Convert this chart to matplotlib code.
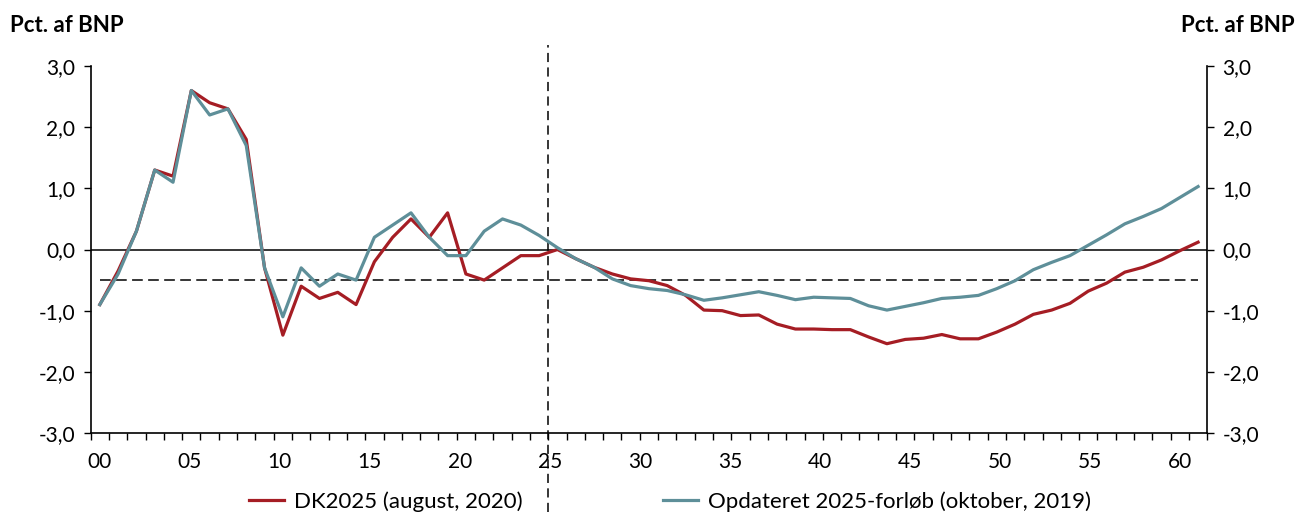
import matplotlib.pyplot as plt
import numpy as np
from matplotlib.ticker import FixedLocator, FixedFormatter

plt.rcParams['font.family'] = ['Lato', 'DejaVu Sans']

# data (pct. af BNP)
years = list(range(2000, 2061))
dk2025 = [-0.9, -0.35, 0.3, 1.3, 1.2, 2.6, 2.4, 2.3, 1.8, -0.3,
          -1.4, -0.6, -0.8, -0.7, -0.9, -0.2, 0.2, 0.5, 0.2, 0.6,
          -0.4, -0.5, -0.3, -0.1, -0.1, 0.0, -0.15, -0.29, -0.40, -0.48,
          -0.51, -0.59, -0.75, -0.99, -1.00, -1.08, -1.07, -1.22, -1.30, -1.30,
          -1.31, -1.31, -1.43, -1.54, -1.47, -1.45, -1.39, -1.46, -1.46, -1.35,
          -1.22, -1.06, -0.99, -0.88, -0.68, -0.55, -0.37, -0.29, -0.17, -0.02,
          0.12]
opdateret = [-0.9, -0.4, 0.3, 1.3, 1.1, 2.6, 2.2, 2.3, 1.7, -0.3,
             -1.1, -0.3, -0.6, -0.4, -0.5, 0.2, 0.4, 0.6, 0.2, -0.1,
             -0.1, 0.3, 0.5, 0.4, 0.23, 0.03, -0.15, -0.29, -0.48, -0.59,
             -0.64, -0.67, -0.74, -0.83, -0.79, -0.74, -0.69, -0.75, -0.82, -0.78,
             -0.79, -0.80, -0.92, -0.99, -0.93, -0.87, -0.80, -0.78, -0.75, -0.64,
             -0.51, -0.33, -0.21, -0.10, 0.07, 0.24, 0.42, 0.54, 0.67, 0.85,
             1.03]
names = ['DK2025 (august, 2020)', 'Opdateret 2025-forløb (oktober, 2019)']
tick_years = list(range(0, 61, 5))
yticks = [-3, -2, -1, 0, 1, 2, 3]
target = -0.5
split_year = 2025

RED = '#A51D24'
TEAL = '#5E8F99'
FS = 15

fig = plt.figure(figsize=(12.97, 5.12), dpi=100)
ax = fig.add_axes([0.0699, 0.1543, 0.8609, 0.7167])

x = np.arange(len(years))
ax.plot(x, dk2025, color=RED, lw=2.3, label=names[0], zorder=4)
ax.plot(x, opdateret, color=TEAL, lw=2.3, label=names[1], zorder=5)

ax.axhline(0, color='black', lw=1.1, zorder=2)
ax.plot([x[0], x[-1]], [target, target], color='black', lw=1.1,
        dashes=(7, 3.5), zorder=2)

# vertical divider at 2025, runs past the axes
xv = years.index(split_year) - 0.5
ax.plot([xv, xv], [-0.215, 1.057], color='black', lw=1.1, dashes=(6, 3.5),
        transform=ax.get_xaxis_transform(), clip_on=False, zorder=3)

ax.set_xlim(-0.5, len(years) - 0.5)
ax.set_ylim(-3, 3)

# labels sit on a slightly tighter grid than the data, as in the original
n = len(years) + 1
label_pos = [(j + 0.5) * len(years) / n - 0.5 for j in tick_years]
ax.xaxis.set_major_locator(FixedLocator(label_pos))
ax.xaxis.set_major_formatter(FixedFormatter(['%02d' % j for j in tick_years]))
ax.xaxis.set_minor_locator(FixedLocator(np.arange(-0.5, len(years), 1.0)))
ax.tick_params(axis='x', which='major', length=0, pad=14, labelsize=FS)
ax.tick_params(axis='x', which='minor', length=5, width=1, direction='out')

ax.set_yticks(yticks)
ax.set_yticklabels([('%.1f' % v).replace('.', ',') for v in yticks])
ax.tick_params(axis='y', which='major', length=5, width=1, pad=6,
               labelsize=FS, left=True, right=True,
               labelleft=True, labelright=True)

for s in ['left', 'right', 'bottom']:
    ax.spines[s].set_linewidth(1.2)
ax.spines['top'].set_visible(False)

fig.text(0.008, 0.951, 'Pct. af BNP', fontsize=16, fontweight='bold',
         ha='left', va='center')
fig.text(0.998, 0.951, 'Pct. af BNP', fontsize=16, fontweight='bold',
         ha='right', va='center')

fig.legend(loc='center', bbox_to_anchor=(0.5166, 0.02), ncol=2,
           frameon=False, fontsize=16, handlelength=1.58, handletextpad=0.45,
           columnspacing=6.3, borderpad=0)

fig.savefig('out.png', dpi=100)
